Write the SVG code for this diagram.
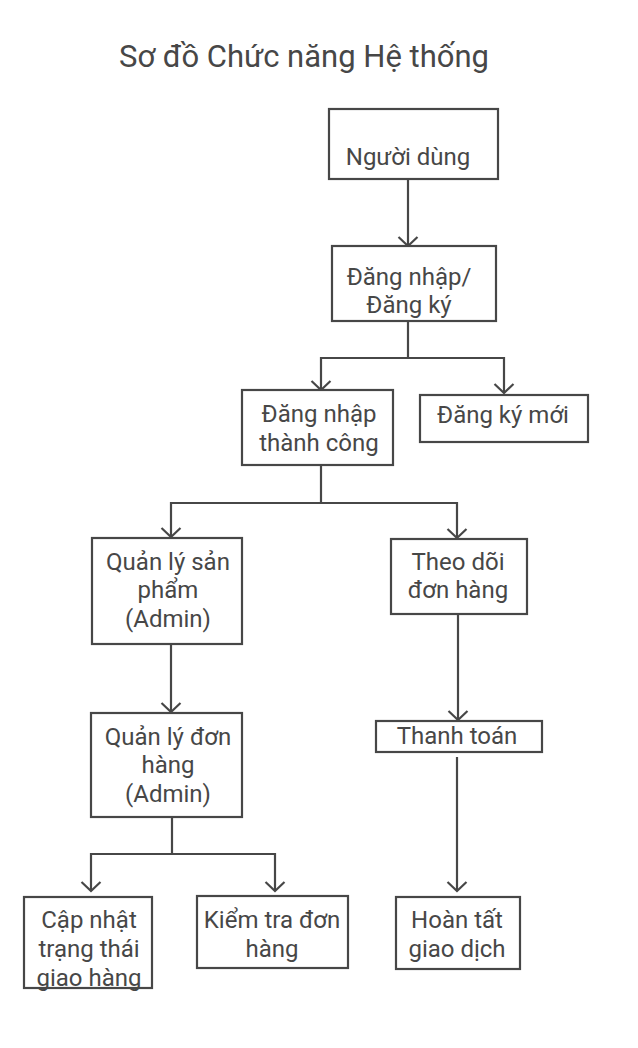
<svg xmlns="http://www.w3.org/2000/svg" width="638" height="1048" viewBox="0 0 638 1048">
<defs>
<marker id="arr" markerUnits="userSpaceOnUse" markerWidth="14" markerHeight="22" refX="10" refY="11" orient="auto" viewBox="0 0 14 22">
<path d="M1,1.5 L10,11 L1,20.5" fill="none" stroke="#474747" stroke-width="2.2"/>
</marker>
<style>
.box{fill:#fff;stroke:#474747;stroke-width:2.2}
.t{font-family:Roboto,"Noto Sans",sans-serif;font-size:24px;fill:#474747;text-anchor:middle}
.title{font-family:Roboto,"Noto Sans",sans-serif;font-size:31px;fill:#474747;text-anchor:middle}
.c{fill:none;stroke:#474747;stroke-width:2.2}
</style>
</defs>
<rect width="638" height="1048" fill="#fff"/>
<text class="title" x="304" y="67">Sơ đồ Chức năng Hệ thống</text>

<g id="connectors">
<path class="c" d="M408,179 V246" marker-end="url(#arr)"/>
<path class="c" d="M408,321 V358 H321 V390" marker-end="url(#arr)"/>
<path class="c" d="M408,358 H504 V393" marker-end="url(#arr)"/>
<path class="c" d="M321,465 V503 H171 V537" marker-end="url(#arr)"/>
<path class="c" d="M321,503 H457 V538" marker-end="url(#arr)"/>
<path class="c" d="M171,644 V712" marker-end="url(#arr)"/>
<path class="c" d="M458,614 V720" marker-end="url(#arr)"/>
<path class="c" d="M457,757 V891" marker-end="url(#arr)"/>
<path class="c" d="M172,817 V854 H91 V891" marker-end="url(#arr)"/>
<path class="c" d="M172,854 H275 V891" marker-end="url(#arr)"/>
</g>

<g id="n1"><rect class="box" x="329" y="109" width="169" height="70"/><text class="t" x="408" y="165">Người dùng</text></g>
<g id="n2"><rect class="box" x="332" y="246" width="164" height="75"/><text class="t" x="409" y="285">Đăng nhập/</text><text class="t" x="409" y="313">Đăng ký</text></g>
<g id="n3"><rect class="box" x="242" y="390" width="151" height="75"/><text class="t" x="319" y="422">Đăng nhập</text><text class="t" x="319" y="451">thành công</text></g>
<g id="n4"><rect class="box" x="420" y="395" width="168" height="47"/><text class="t" x="503" y="423">Đăng ký mới</text></g>
<g id="n5"><rect class="box" x="92" y="538" width="150" height="106"/><text class="t" x="168" y="570">Quản lý sản</text><text class="t" x="168" y="598">phẩm</text><text class="t" x="168" y="627">(Admin)</text></g>
<g id="n6"><rect class="box" x="391" y="539" width="136" height="75"/><text class="t" x="458" y="570">Theo dõi</text><text class="t" x="458" y="598">đơn hàng</text></g>
<g id="n7"><rect class="box" x="91" y="713" width="151" height="104"/><text class="t" x="168" y="745">Quản lý đơn</text><text class="t" x="168" y="773">hàng</text><text class="t" x="168" y="802">(Admin)</text></g>
<g id="n8"><rect class="box" x="376" y="721" width="166" height="31"/><text class="t" x="457" y="744">Thanh toán</text></g>
<g id="n9"><rect class="box" x="24" y="897" width="128" height="91"/><text class="t" x="89" y="928">Cập nhật</text><text class="t" x="89" y="957">trạng thái</text><text class="t" x="89" y="986">giao hàng</text></g>
<g id="n10"><rect class="box" x="197" y="896" width="151" height="72"/><text class="t" x="272" y="928">Kiểm tra đơn</text><text class="t" x="272" y="957">hàng</text></g>
<g id="n11"><rect class="box" x="396" y="897" width="124" height="72"/><text class="t" x="457" y="928">Hoàn tất</text><text class="t" x="457" y="957">giao dịch</text></g>
</svg>
